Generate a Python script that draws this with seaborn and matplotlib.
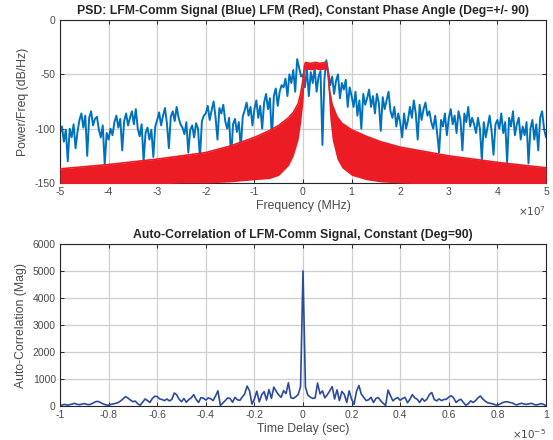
import numpy as np
import matplotlib
matplotlib.use("Agg")
import matplotlib.pyplot as plt
from matplotlib.ticker import FuncFormatter
import seaborn as sns

# ---- PSD of the LFM-Comm signal (blue), dB/Hz ----
# frequency axis in units of 1e7 Hz, -5 .. 5 evenly sampled
psd_blue = [
    -104, -98, -112, -101, -130, -100, -108, -96, -118, -103,
    -92, -86, -99, -88, -125, -90, -84, -97, -91, -89,
    -101, -108, -97, -133, -104,
    -110, -100, -106, -94, -88, -99, -91, -120, -93, -86, -97, -90, -84, -96, -82,
    -100, -107, -96, -130, -104, -99, -110, -101, -126, -98,
    -92, -85, -97, -88, -81, -95, -118, -89, -84, -93, -80, -90, -96,
    -99, -105, -94, -122, -101, -97, -108, -95, -100, -127, -93, -88,
    -86, -79, -92, -83, -75, -89, -110, -81, -86, -78,
    -93, -100, -90, -128, -96, -91, -103, -94, -118, -89,
    -83, -76, -88, -80, -97,
    -82, -74, -90, -79, -100,
    -76, -68, -82, -72, -110, -70, -63, -79, -66, -60,
    -62, -54, -70, -50, -58, -46, -66, -36, -44, -52,
    -50, -62, -45, -70, -48, -58, -44, -66, -52, -47, -115, -55, -37,
    -48, -60, -52, -68, -56, -50, -72, -58, -64, -55, -80, -62,
    -70, -80, -66, -88, -74, -100, -68, -78,
    -72, -64, -80, -70, -86, -68, -76, -102, -71, -82, -74, -66, -84,
    -90, -80, -98, -86,
    -94, -108, -86, -100, -92,
    -80, -90, -74, -86, -110, -78, -92, -82, -76, -88, -84,
    -94, -100, -88, -104, -122, -92, -98, -86, -106,
    -90, -82, -96, -88, -104, -84, -92, -120, -86, -94, -80, -98, -90,
    -96, -104, -90, -100, -129, -94, -108, -98, -88, -102, -124, -96,
    -92, -100, -86, -104, -94, -131, -90, -98, -84, -106, -96, -90, -110,
    -98, -106, -94, -132, -100, -92, -110, -96, -120, -90, -84, -100,
    -108,
]

# ---- PSD of the plain LFM (red): upper / lower edge of the red band ----
red_f = [-5, -4, -3, -2.5, -2, -1.5, -1, -0.7, -0.5, -0.3, -0.2, -0.1, -0.05,
         0, 0.03, 0.05, 0.15, 0.25, 0.35, 0.45, 0.49, 0.52, 0.55, 0.6, 0.7,
         0.8, 1.0, 1.3, 1.6, 2, 2.5, 3, 4, 5]
red_hi = [-137, -133, -128, -125, -122, -116, -108, -102, -97, -90, -85, -77, -68,
          -55, -42, -39, -40, -39, -40, -39, -40, -52, -66, -78, -89,
          -95, -101, -107, -112, -117, -121, -125, -131, -136]
red_lo = [-152, -152, -151, -150, -150, -149, -147, -146, -143, -134, -125, -110, -95,
          -75, -50, -45, -46, -45, -46, -45, -46, -66, -90, -110, -128,
          -136, -143, -147, -149, -150, -151, -152, -152, -152]

# ---- auto-correlation magnitude, lag in units of 1e-5 s ----
acorr_left = [  # lag -1.00 .. -0.01
    20, 40, 60, 30, 50, 70, 100, 60, 50, 70,
    90, 60, 50, 80, 130, 170, 160, 110, 70, 40,
    30, 60, 80, 100, 130, 190, 270, 350, 290, 220,
    160, 180, 80, 30, 140, 260, 200, 130, 280, 360,
    350, 260, 240, 200, 260, 190, 240, 480, 420, 250,
    160, 280, 140, 240, 300, 420, 250, 130, 310, 290,
    220, 300, 270, 200, 370, 560, 20, 110, 200, 300,
    280, 140, 320, 230, 210, 330, 450, 740, 560, 70,
    260, 550, 150, 420, 530, 220, 610, 280, 700, 540,
    410, 320, 570, 460, 860, 310, 280, 340, 420, 720,
]
acorr_peak = [5000]  # lag 0
acorr_right = [  # lag 0.01 .. 1.00
    700, 400, 330, 280, 300, 850, 450, 560, 300, 420,
    560, 720, 260, 600, 200, 540, 430, 130, 560, 250,
    60, 540, 760, 440, 320, 200, 230, 320, 130, 280,
    310, 190, 100, 20, 590, 380, 190, 270, 310, 210,
    280, 320, 120, 250, 420, 300, 250, 130, 280, 180,
    250, 420, 500, 240, 190, 260, 200, 240, 250, 330,
    380, 300, 130, 210, 250, 130, 30, 80, 190, 130,
    200, 300, 370, 260, 180, 120, 100, 80, 50, 30,
    70, 120, 150, 160, 130, 120, 70, 40, 80, 100,
    70, 60, 80, 100, 60, 40, 60, 90, 60, 10,
]

freq_ticks = [-5, -4, -3, -2, -1, 0, 1, 2, 3, 4, 5]
psd_ticks = [-150, -100, -50, 0]
lag_ticks = [-1, -0.8, -0.6, -0.4, -0.2, 0, 0.2, 0.4, 0.6, 0.8, 1]
acorr_ticks = [0, 1000, 2000, 3000, 4000, 5000, 6000]

BLUE = "#0072BD"
RED = "#EC1C24"
NAVY = "#2D4B9E"
GREY = "#4a4a4a"

sns.set_style("whitegrid")
plt.rcParams["font.family"] = ["Liberation Sans", "DejaVu Sans"]
plt.rcParams["axes.unicode_minus"] = False

freq = np.linspace(-5, 5, len(psd_blue))
acorr = acorr_left + acorr_peak + acorr_right
lag = np.linspace(-1, 1, len(acorr))

fig = plt.figure(figsize=(5.53, 4.4), dpi=100)
ax1 = fig.add_axes([60 / 553, 1 - 183 / 440, 486 / 553, 163 / 440])
ax2 = fig.add_axes([60 / 553, 1 - 406 / 440, 486 / 553, 162 / 440])

fmt = FuncFormatter(lambda v, p: f"{v:g}")


def style(ax):
    ax.grid(True, color="#cfcfcf", linewidth=0.9)
    ax.set_axisbelow(True)
    for s in ax.spines.values():
        s.set_visible(True)
        s.set_color("#262626")
        s.set_linewidth(0.8)
    ax.tick_params(direction="in", length=3, width=0.7, bottom=True, left=True,
                   top=True, right=True, labelsize=7.5, color="#262626",
                   labelcolor=GREY, pad=3)
    ax.xaxis.set_major_formatter(fmt)
    ax.yaxis.set_major_formatter(fmt)


# top panel: PSD
sns.lineplot(x=freq, y=psd_blue, ax=ax1, color=BLUE, linewidth=1.4,
             sort=False, estimator=None)
ax1.fill_between(red_f, red_lo, red_hi, color=RED, linewidth=0, zorder=3)
sns.lineplot(x=red_f, y=red_hi, ax=ax1, color=RED, linewidth=1.2,
             sort=False, estimator=None, zorder=3)
ax1.set_xlim(-5, 5)
ax1.set_ylim(-150, 0)
ax1.set_xticks(freq_ticks)
ax1.set_yticks(psd_ticks)
style(ax1)
ax1.set_title("PSD: LFM-Comm Signal (Blue) LFM (Red), Constant Phase Angle (Deg=+/- 90)",
              fontsize=8.8, fontweight="bold", pad=4)
ax1.set_xlabel("Frequency (MHz)", fontsize=8.8, color=GREY, labelpad=2)
ax1.set_ylabel("Power/Freq (dB/Hz)", fontsize=8.8, color=GREY, labelpad=4)
ax1.text(1.0, -0.13, r"$\times10^{7}$", transform=ax1.transAxes,
         ha="right", va="top", fontsize=7.5, color=GREY)

# bottom panel: auto-correlation
sns.lineplot(x=lag, y=acorr, ax=ax2, color=NAVY, linewidth=1.2,
             sort=False, estimator=None)
ax2.set_xlim(-1, 1)
ax2.set_ylim(0, 6000)
ax2.set_xticks(lag_ticks)
ax2.set_yticks(acorr_ticks)
style(ax2)
ax2.set_title("Auto-Correlation of LFM-Comm Signal, Constant (Deg=90)",
              fontsize=8.8, fontweight="bold", pad=4)
ax2.set_xlabel("Time Delay (sec)", fontsize=8.8, color=GREY, labelpad=2)
ax2.set_ylabel("Auto-Correlation (Mag)", fontsize=8.8, color=GREY, labelpad=4)
ax2.text(1.0, -0.13, r"$\times10^{-5}$", transform=ax2.transAxes,
         ha="right", va="top", fontsize=7.5, color=GREY)

fig.savefig("out.png", dpi=100)
